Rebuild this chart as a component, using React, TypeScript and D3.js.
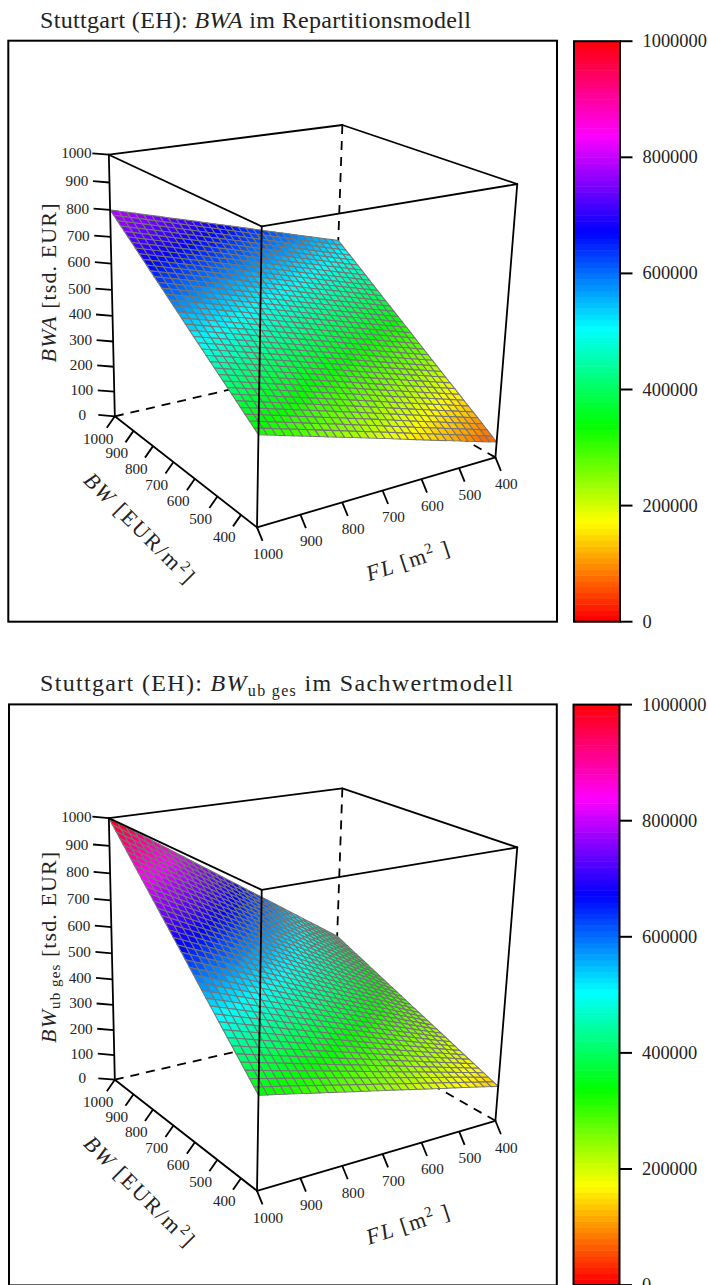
import React from "react";
import * as d3 from "d3";

const bwTicks = [1000, 900, 800, 700, 600, 500, 400];
const flTicks = [1000, 900, 800, 700, 600, 500, 400];
const zTicks = [0, 100, 200, 300, 400, 500, 600, 700, 800, 900, 1000];
const colorTicks = [0, 200000, 400000, 600000, 800000, 1000000];

// surface readings at the axis ticks, rows = BW (last row is the axis end), columns = FL
const bwNodes = [1000, 900, 800, 700, 600, 500, 400, 335];
const bwaValues = [
  [800, 756, 712, 668, 623, 579, 535],
  [729, 685, 641, 597, 552, 508, 464],
  [657, 613, 569, 525, 480, 436, 392],
  [586, 542, 498, 454, 409, 365, 321],
  [514, 470, 426, 382, 337, 293, 249],
  [443, 399, 355, 311, 266, 222, 178],
  [372, 328, 284, 240, 195, 151, 107],
  [325, 281, 237, 193, 148, 104, 60],
];
const bwUbValues = [
  [1000, 900, 800, 700, 600, 500, 400],
  [900, 810, 720, 630, 540, 450, 360],
  [800, 720, 640, 560, 480, 400, 320],
  [700, 630, 560, 490, 420, 350, 280],
  [600, 540, 480, 420, 360, 300, 240],
  [500, 450, 400, 350, 300, 250, 200],
  [400, 360, 320, 280, 240, 200, 160],
  [335, 302, 268, 235, 201, 168, 134],
];

const SERIF = "'Liberation Serif', serif";
const BW_CELLS = 37;
const FL_CELLS = 30;

const uScale = d3.scaleLinear().domain([1000, 335]).range([0, 1]);
const vScale = d3.scaleLinear().domain([1000, 400]).range([0, 1]);
const wScale = d3.scaleLinear().domain([0, 1000]).range([0, 1]);
const barScale = d3.scaleLinear().domain([0, 1000000]).range([621.7, 41.2]);

// where the unit cube's corners land on the page, used to calibrate the camera
const cubeCorners = [
  [0, 0, 0, 115, 416],
  [1, 0, 0, 257.3, 527.7],
  [1, 1, 0, 496, 456.7],
  [0, 1, 0, 333, 366],
  [0, 0, 1, 109, 154.3],
  [1, 0, 1, 261, 227],
  [1, 1, 1, 517, 184],
  [0, 1, 1, 343, 125],
];

// least squares fit of a projective camera, 11 parameters
function fitCamera() {
  const rows: number[][] = [];
  const rhs: number[] = [];
  cubeCorners.forEach(([a, b, c, x, y]) => {
    rows.push([a, b, c, 1, 0, 0, 0, 0, -x * a, -x * b, -x * c]);
    rhs.push(x);
    rows.push([0, 0, 0, 0, a, b, c, 1, -y * a, -y * b, -y * c]);
    rhs.push(y);
  });
  const n = 11;
  const m: number[][] = d3.range(n).map((i) =>
    d3.range(n + 1).map((j) =>
      j < n ? d3.sum(rows, (r) => r[i] * r[j]) : d3.sum(rows, (r, k) => r[i] * rhs[k])
    )
  );
  for (let i = 0; i < n; i++) {
    let p = i;
    for (let k = i + 1; k < n; k++) if (Math.abs(m[k][i]) > Math.abs(m[p][i])) p = k;
    [m[i], m[p]] = [m[p], m[i]];
    for (let k = 0; k < n; k++) {
      if (k === i) continue;
      const f = m[k][i] / m[i][i];
      for (let j = i; j <= n; j++) m[k][j] -= f * m[i][j];
    }
  }
  return d3.range(n).map((i) => m[i][n] / m[i][i]);
}
const cam = fitCamera();

function project(bw: number, fl: number, z: number): [number, number] {
  const a = uScale(bw);
  const b = vScale(fl);
  const c = wScale(z);
  const d = cam[8] * a + cam[9] * b + cam[10] * c + 1;
  return [
    (cam[0] * a + cam[1] * b + cam[2] * c + cam[3]) / d,
    (cam[4] * a + cam[5] * b + cam[6] * c + cam[7]) / d,
  ];
}

function surfaceAt(table: number[][], bw: number, fl: number) {
  const rowPos = d3.scaleLinear().domain(bwNodes).range(d3.range(bwNodes.length))(bw);
  const colPos = d3.scaleLinear().domain(flTicks).range(d3.range(flTicks.length))(fl);
  const r = Math.min(Math.floor(rowPos), bwNodes.length - 2);
  const c = Math.min(Math.floor(colPos), flTicks.length - 2);
  const top = d3.interpolateNumber(table[r][c], table[r][c + 1])(colPos - c);
  const bottom = d3.interpolateNumber(table[r + 1][c], table[r + 1][c + 1])(colPos - c);
  return d3.interpolateNumber(top, bottom)(rowPos - r);
}

const paletteColor = (i: number) => d3.hsl(i * 3.6, 1, 0.5).formatHex();
const colorFor = (z: number) => paletteColor(Math.min(99, Math.floor(z / 10)));

const line = d3.line();

function Surface({ table }: { table: number[][] }) {
  const bwVals = d3.range(BW_CELLS + 1).map((i) => uScale.invert(i / BW_CELLS));
  const flVals = d3.range(FL_CELLS + 1).map((i) => vScale.invert(i / FL_CELLS));
  const cells: React.ReactNode[] = [];
  for (let i = 0; i < BW_CELLS; i++) {
    for (let j = 0; j < FL_CELLS; j++) {
      const corners: [number, number][] = [
        [bwVals[i], flVals[j]],
        [bwVals[i + 1], flVals[j]],
        [bwVals[i + 1], flVals[j + 1]],
        [bwVals[i], flVals[j + 1]],
      ];
      const zs = corners.map(([b, f]) => surfaceAt(table, b, f));
      const pts = corners.map(([b, f], k) => project(b, f, zs[k]));
      cells.push(
        <path key={`${i}-${j}`} d={line(pts) + "Z"} fill={colorFor(d3.mean(zs) as number)} stroke="#747474" strokeWidth={1.05} />
      );
    }
  }
  return <g>{cells}</g>;
}

const edge = (a: number[], b: number[]) => line([project(a[0], a[1], a[2]), project(b[0], b[1], b[2])]) as string;

const BW0 = 1000;
const BW1 = 335;
const FL0 = 1000;
const FL1 = 400;

function Box({ part }: { part: "back" | "front" }) {
  if (part === "back") {
    return (
      <g stroke="#000" strokeWidth={1.8} fill="none" strokeDasharray="9 7">
        <path d={edge([BW0, FL1, 1000], [BW0, FL1, 0])} />
        <path d={edge([BW0, FL0, 0], [BW0, FL1, 0])} />
        <path d={edge([BW1, FL1, 0], [BW0, FL1, 0])} />
      </g>
    );
  }
  const solid = [
    [[BW0, FL0, 1000], [BW1, FL0, 1000]],
    [[BW1, FL0, 1000], [BW1, FL1, 1000]],
    [[BW1, FL1, 1000], [BW0, FL1, 1000]],
    [[BW0, FL1, 1000], [BW0, FL0, 1000]],
    [[BW0, FL0, 1000], [BW0, FL0, 0]],
    [[BW1, FL0, 1000], [BW1, FL0, 0]],
    [[BW1, FL1, 1000], [BW1, FL1, 0]],
    [[BW0, FL0, 0], [BW1, FL0, 0]],
    [[BW1, FL0, 0], [BW1, FL1, 0]],
  ];
  return (
    <g stroke="#000" strokeWidth={1.8} fill="none" strokeLinecap="round">
      {solid.map((s, i) => (
        <path key={i} d={edge(s[0], s[1])} />
      ))}
    </g>
  );
}

function Axes() {
  const tick = (p: [number, number], dx: number, dy: number, lx: number, ly: number, label: number) => (
    <g key={label}>
      <line x1={p[0]} y1={p[1]} x2={p[0] + dx} y2={p[1] + dy} stroke="#000" strokeWidth={1.8} />
      <text x={p[0] + dx + lx} y={p[1] + dy + ly} dy="0.33em" textAnchor="middle" fontSize={15.2} fill="#222">
        {label}
      </text>
    </g>
  );
  return (
    <g>
      <g>{zTicks.map((z) => tick(project(BW0, FL0, z), -16.5, -1.4, -16, 0, z))}</g>
      <g>{bwTicks.map((b) => tick(project(b, FL0, 0), -8, 11.5, -8.7, 11, b))}</g>
      <g>{flTicks.map((f) => tick(project(BW1, f, 0), 5.5, 13.5, 5.4, 13.3, f))}</g>
    </g>
  );
}

function ColorBar({ x0, x1 }: { x0: number; x1: number }) {
  const levels = d3.range(100);
  return (
    <g>
      {levels.map((i) => (
        <rect
          key={i}
          x={x0}
          width={x1 - x0}
          y={barScale((i + 1) * 10000)}
          height={barScale(i * 10000) - barScale((i + 1) * 10000) + 0.5}
          fill={paletteColor(i)}
        />
      ))}
      <rect x={x0} y={barScale(1000000)} width={x1 - x0} height={barScale(0) - barScale(1000000)} fill="none" stroke="#000" strokeWidth={2} />
      {colorTicks.map((t) => (
        <g key={t}>
          <line x1={x1} x2={x1 + 12.5} y1={barScale(t)} y2={barScale(t)} stroke="#000" strokeWidth={2} />
          <text x={x1 + 22.5} y={barScale(t)} dy="0.33em" fontSize={18.4} fill="#222">
            {t}
          </text>
        </g>
      ))}
    </g>
  );
}

const Panel = ({
  table,
  offsetY,
  frame,
  barX,
  title,
  titleLen,
  zLabel,
  zLen,
  zAt,
}: {
  table: number[][];
  offsetY: number;
  frame: number[];
  barX: number[];
  title: React.ReactNode;
  titleLen: number;
  zLabel: React.ReactNode;
  zLen: number;
  zAt: number;
}) => (
  <g transform={`translate(0,${offsetY})`}>
    <text x={40} y={27.5} fontSize={24} fill="#222" textLength={titleLen} lengthAdjust="spacing">
      {title}
    </text>
    <rect x={frame[0]} y={frame[1]} width={frame[2] - frame[0]} height={frame[3] - frame[1]} fill="#fff" stroke="#000" strokeWidth={2} />
    <Box part="back" />
    <Surface table={table} />
    <Box part="front" />
    <Axes />
    <text
      transform={`translate(55.5,${zAt}) rotate(-90)`}
      textAnchor="middle"
      fontSize={22}
      fill="#222"
      textLength={zLen}
      lengthAdjust="spacing"
    >
      {zLabel}
    </text>
    <text transform="translate(134,533) rotate(45)" textAnchor="middle" fontSize={22} fill="#222" textLength={146} lengthAdjust="spacing">
      <tspan fontStyle="italic">BW</tspan>
      <tspan> [EUR/m</tspan>
      <tspan fontSize={15} dy={-8}>2</tspan>
      <tspan dy={8}>]</tspan>
    </text>
    <text transform="translate(410,568) rotate(-18)" textAnchor="middle" fontSize={22} fill="#222" textLength={86} lengthAdjust="spacing">
      <tspan fontStyle="italic">FL</tspan>
      <tspan> [m</tspan>
      <tspan fontSize={15} dy={-8}>2</tspan>
      <tspan dy={8}> ]</tspan>
    </text>
    <ColorBar x0={barX[0]} x1={barX[1]} />
  </g>
);

export default function App() {
  return (
    <svg
      width={708}
      height={1285}
      viewBox="0 0 708 1285"
      style={{ position: "absolute", left: 0, top: 0, display: "block", background: "#fff" }}
      fontFamily={SERIF}
    >
      <Panel
        table={bwaValues}
        offsetY={0}
        frame={[8.3, 40.7, 557, 621.7]}
        barX={[574, 620]}
        titleLen={431}
        title={
          <>
            Stuttgart (EH): <tspan fontStyle="italic">BWA</tspan> im Repartitionsmodell
          </>
        }
        zLabel={
          <>
            <tspan fontStyle="italic">BWA</tspan> [tsd. EUR]
          </>
        }
        zLen={159}
        zAt={283}
      />
      <Panel
        table={bwUbValues}
        offsetY={663.4}
        frame={[9, 41, 556.8, 622]}
        barX={[573.5, 619.5]}
        titleLen={473}
        title={
          <>
            Stuttgart (EH): <tspan fontStyle="italic">BW</tspan>
            <tspan fontSize={16} dy={5}>ub ges</tspan>
            <tspan dy={-5}> im Sachwertmodell</tspan>
          </>
        }
        zLabel={
          <>
            <tspan fontStyle="italic">BW</tspan>
            <tspan fontSize={15} dy={4}>ub ges</tspan>
            <tspan dy={-4}> [tsd. EUR]</tspan>
          </>
        }
        zLen={191}
        zAt={284}
      />
    </svg>
  );
}
